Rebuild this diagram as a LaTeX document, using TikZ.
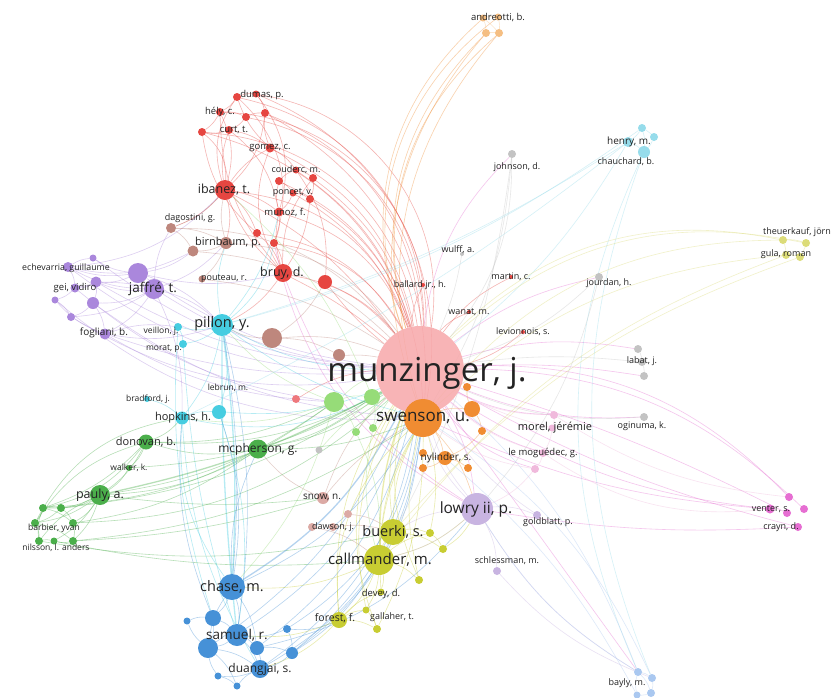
\documentclass[tikz,border=0pt]{standalone}
\usepackage{fontspec}
\setmainfont{Open Sans}
\usetikzlibrary{backgrounds}
\definecolor{cRed}{RGB}{230,70,65}
\definecolor{cPink}{RGB}{247,168,170}
\definecolor{cPinkL}{RGB}{238,120,125}
\definecolor{cBrown}{RGB}{190,135,125}
\definecolor{cSnow}{RGB}{220,170,165}
\definecolor{cPurple}{RGB}{170,135,220}
\definecolor{cCyan}{RGB}{70,205,225}
\definecolor{cGreen}{RGB}{75,175,75}
\definecolor{cLGreen}{RGB}{150,220,120}
\definecolor{cOrange}{RGB}{240,140,50}
\definecolor{cYellow}{RGB}{200,205,50}
\definecolor{cBlue}{RGB}{70,145,215}
\definecolor{cLav}{RGB}{200,180,225}
\definecolor{cGray}{RGB}{195,195,195}
\definecolor{cMag}{RGB}{230,110,210}
\definecolor{cLPink}{RGB}{240,185,220}
\definecolor{cPeach}{RGB}{245,190,130}
\definecolor{cLCyan}{RGB}{150,220,235}
\definecolor{cKhaki}{RGB}{220,220,120}
\definecolor{cLBlue}{RGB}{170,200,240}
\definecolor{cText}{RGB}{35,35,35}
\newcommand\Nd[4]{\node[nd=#4,minimum size=#3pt] (#1) at (#2) {};}
\newcommand\Lb[4]{\node[lbl,font=\fontsize{#4}{#4}\selectfont] (#1) at (#2) {#3};}
\newcommand\EL[3]{\foreach \a/\b/\c in {#3} {\pgfmathsetmacro\cc{#2*\c}\draw[lk=#1] (\a) to[bend left=\cc] (\b);}}
\newcommand\ELT[3]{\foreach \a/\b/\c in {#3} {\pgfmathsetmacro\cc{#2*\c}\draw[lk=#1,line width=1.3pt] (\a) to[bend left=\cc] (\b);}}
\begin{document}
\begin{tikzpicture}[x=1pt,y=-1pt,
  nd/.style={circle,fill=#1,draw=none,inner sep=0pt},
  lbl/.style={inner sep=0pt,text=cText},
  lk/.style={draw=#1,line width=0.6pt,draw opacity=0.4}]
\useasboundingbox (0,0) rectangle (835,697);
% ---------------- nodes ----------------
\node[nd=cPink,fill opacity=0.85,minimum size=88pt] (munz) at (420,370) {};
\Nd{swenson}{423,418}{38}{cOrange}
% red
\Nd{r1}{237,97}{8}{cRed}\Nd{r2}{256,94}{7}{cRed}\Nd{r3}{220,112}{8}{cRed}
\Nd{r4}{246,117}{8}{cRed}\Nd{r5}{265,113}{8}{cRed}\Nd{r6}{202,132}{8}{cRed}
\Nd{r7}{229,130}{8}{cRed}\Nd{r8}{270,148}{9}{cRed}\Nd{r9}{296,170}{7}{cRed}
\Nd{r10}{313,178}{8}{cRed}\Nd{r11}{279,181}{8}{cRed}\Nd{r12}{293,193}{7}{cRed}
\Nd{r13}{310,199}{8}{cRed}\Nd{r14}{279,212}{9}{cRed}\Nd{ibanez}{225,190}{20}{cRed}
\Nd{r15}{257,233}{8}{cRed}\Nd{r16}{274,243}{8}{cRed}\Nd{bruy}{283,273}{18}{cRed}
\Nd{r17}{325,282}{14}{cRed}\Nd{r18}{296,399}{8}{cPinkL}
\Nd{wanat}{469,312}{4}{cRed}\Nd{martin}{511,277}{4}{cRed}
\Nd{levion}{523,332}{4}{cRed}\Nd{ballard}{423,285}{4}{cRed}
% brown
\Nd{b1}{171,228}{10}{cBrown}\Nd{b3}{226,243}{12}{cBrown}\Nd{b4}{193,251}{11}{cBrown}
\Nd{b5}{202,279}{7}{cBrown}\Nd{b6}{272,338}{20}{cBrown}\Nd{b7}{339,355}{12}{cBrown}
\Nd{snow}{323,498}{12}{cSnow}\Nd{b8}{348,514}{8}{cSnow}
\Nd{daw1}{312,527}{8}{cSnow}\Nd{daw2}{333,527}{8}{cSnow}
% purple
\Nd{p1}{68,267}{10}{cPurple}\Nd{p2}{93,258}{7}{cPurple}\Nd{p3}{138,273}{20}{cPurple}
\Nd{jaffre}{154,289}{20}{cPurple}\Nd{p4}{96,282}{11}{cPurple}\Nd{p5}{75,288}{9}{cPurple}
\Nd{p6}{55,300}{7}{cPurple}\Nd{p7}{93,303}{12}{cPurple}\Nd{p8}{71,317}{8}{cPurple}
\Nd{fogliani}{105,334}{11}{cPurple}
% cyan
\Nd{pillon}{222,325}{22}{cCyan}\Nd{c1}{178,327}{8}{cCyan}\Nd{c2}{183,344}{8}{cCyan}
\Nd{hopkins}{182,418}{13}{cCyan}\Nd{c3}{219,412}{14}{cCyan}\Nd{c4}{147,399}{6}{cCyan}
% green
\Nd{donovan}{146,442}{15}{cGreen}\Nd{mcpherson}{258,449}{19}{cGreen}
\Nd{walker}{129,468}{6}{cGreen}\Nd{pauly}{100,495}{20}{cGreen}
\Nd{g1}{43,508}{8}{cGreen}\Nd{g2}{61,508}{8}{cGreen}\Nd{g3}{73,523}{8}{cGreen}
\Nd{g4}{35,523}{8}{cGreen}\Nd{g5}{73,541}{8}{cGreen}\Nd{g6}{39,541}{8}{cGreen}
\Nd{g7}{54,541}{7}{cGreen}
% light green / gray
\Nd{lg1}{334,402}{20}{cLGreen}\Nd{lg2}{372,397}{16}{cLGreen}
\Nd{lg3}{356,432}{8}{cLGreen}\Nd{lg4}{373,428}{8}{cLGreen}\Nd{gr1}{319,450}{7}{cGray}
% orange
\Nd{o1}{472,409}{16}{cOrange}\Nd{o2}{467,387}{8}{cOrange}\Nd{o3}{482,431}{8}{cOrange}
\Nd{nylinder}{445,458}{14}{cOrange}\Nd{o4}{423,453}{8}{cOrange}
\Nd{o5}{423,468}{8}{cOrange}\Nd{o6}{468,468}{8}{cOrange}
% yellow
\Nd{buerki}{393,532}{26}{cYellow}\Nd{y1}{430,533}{8}{cYellow}\Nd{y2}{443,549}{8}{cYellow}
\Nd{callmander}{379,560}{30}{cYellow}\Nd{y3}{419,580}{8}{cYellow}
\Nd{devey}{381,592}{7}{cYellow}\Nd{forest}{339,620}{16}{cYellow}
\Nd{y4}{366,610}{7}{cYellow}\Nd{y5}{377,629}{8}{cYellow}
% blue
\Nd{chase}{232,587}{26}{cBlue}\Nd{bl1}{213,618}{16}{cBlue}\Nd{bl2}{187,621}{7}{cBlue}
\Nd{samuel}{237,635}{22}{cBlue}\Nd{bl3}{208,648}{20}{cBlue}\Nd{bl4}{257,648}{14}{cBlue}
\Nd{bl5}{287,629}{8}{cBlue}\Nd{bl6}{292,653}{12}{cBlue}\Nd{duangjai}{260,669}{18}{cBlue}
\Nd{bl7}{218,676}{7}{cBlue}\Nd{bl8}{237,686}{7}{cBlue}
% lavender
\Nd{lowry}{477,509}{32}{cLav}\Nd{goldblatt}{537,515}{8}{cLav}\Nd{schless}{497,571}{8}{cLav}
% light pink
\Nd{mo1}{554,415}{8}{cLPink}\Nd{mo2}{552,428}{7}{cLPink}
\Nd{le1}{543,453}{8}{cLPink}\Nd{le2}{535,469}{8}{cLPink}
% gray
\Nd{la1}{638,349}{8}{cGray}\Nd{la2}{642,362}{8}{cGray}\Nd{la3}{644,376}{8}{cGray}
\Nd{oginuma}{644,417}{8}{cGray}\Nd{johnson}{512,154}{8}{cGray}
\Nd{jourdan}{599,277}{8}{cGray}\Nd{wulff}{462,254}{4}{cGray}
% magenta
\Nd{v1}{789,497}{8}{cMag}\Nd{v2}{804,509}{8}{cMag}\Nd{v3}{787,513}{8}{cMag}
\Nd{v4}{770,509}{9}{cMag}\Nd{crayn}{798,527}{8}{cMag}
% peach
\Nd{an1}{483,18}{7}{cPeach}\Nd{an2}{498,17}{7}{cPeach}
\Nd{an3}{486,33}{8}{cPeach}\Nd{an4}{499,33}{8}{cPeach}
% light cyan
\Nd{he1}{642,128}{8}{cLCyan}\Nd{he2}{654,137}{8}{cLCyan}
\Nd{he3}{628,142}{10}{cLCyan}\Nd{he4}{644,152}{12}{cLCyan}
% khaki
\Nd{th1}{783,240}{8}{cKhaki}\Nd{th2}{806,243}{8}{cKhaki}
\Nd{gu1}{786,255}{8}{cKhaki}\Nd{gu2}{800,257}{8}{cKhaki}
% light blue
\Nd{ba1}{638,672}{8}{cLBlue}\Nd{ba2}{652,678}{8}{cLBlue}
\Nd{ba3}{651,693}{8}{cLBlue}\Nd{ba4}{637,695}{7}{cLBlue}
% ---------------- edges ----------------
\begin{scope}[on background layer]
\fill[white] (0,0) rectangle (835,697);
\EL{cRed}{1.3}{r1/r2/10,r1/r3/10,r2/r5/10,r3/r4/10,r4/r5/10,r3/r6/10,r4/r7/10,r6/r7/-10,
 r7/r8/10,r5/r8/-10,r8/r9/10,r9/r10/10,r9/r11/-10,r11/r12/10,r12/r13/10,r10/r13/10,r12/r14/10,
 r11/r14/-10,ibanez/r7/10,ibanez/r3/-15,ibanez/r8/10,ibanez/r14/10,ibanez/r15/10,ibanez/bruy/-10,
 r14/r16/10,r16/bruy/10,r15/bruy/10,r14/bruy/-10,r13/bruy/10,r1/ibanez/-20,r6/ibanez/20,r2/r14/20,
 r10/bruy/-15,r9/r17/15,r1/r16/25,r6/r15/-15,r5/ibanez/15,ibanez/b3/10,ibanez/b1/10,r8/bruy/-20,
 r1/munz/30,r2/munz/35,r5/munz/25,r8/munz/20,r10/munz/15,r13/munz/15,r14/munz/20,ibanez/munz/25,
 bruy/munz/15,r17/munz/10,r16/munz/20,r15/munz/20,r12/munz/15,r4/munz/30,r9/munz/15,r11/munz/18,
 r3/munz/35,r6/munz/30,ibanez/munz/10,bruy/munz/5,r17/munz/-5,bruy/pillon/10,r18/munz/10,
 munz/wanat/10,munz/martin/10,munz/ballard/10,munz/levion/-10,r2/swenson/30,r5/swenson/25,
 r6/swenson/28,r3/bruy/-15,r7/r14/15,r1/r8/-10}
\EL{cMag}{1.2}{munz/la1/10,munz/la3/5,munz/oginuma/-10,munz/jourdan/10,munz/johnson/15,
 munz/mo1/-10,munz/le1/-10,munz/le2/-15,munz/lowry/10,munz/v1/20,munz/v2/18,swenson/v4/-8,
 lowry/crayn/-5,munz/crayn/-6,munz/v3/4,o1/v4/-10,munz/ba1/0,r16/lowry/-20,bruy/lowry/-15}
\EL{cPurple}{1.3}{jaffre/p1/10,jaffre/p3/10,jaffre/p4/10,jaffre/p5/-10,jaffre/p7/10,jaffre/p8/10,
 jaffre/fogliani/10,p3/p1/10,p3/p2/10,p3/p4/10,p1/p5/10,p4/p7/10,p5/p6/10,p6/p8/10,p7/p8/10,p1/p2/10,
 p4/p5/10,p7/fogliani/10,p6/fogliani/-10,p1/b4/-15,p3/b4/-10,jaffre/b3/-10,jaffre/b1/10,
 jaffre/munz/-10,p3/munz/-10,fogliani/munz/-8,p4/munz/-10,p2/munz/-12,jaffre/pillon/10,
 p3/pillon/10,fogliani/c1/10,jaffre/hopkins/10,p3/bruy/-10,p1/ibanez/-15,fogliani/lg1/-10,
 p8/munz/-15,p1/munz/-14,p7/swenson/-12,fogliani/pillon/-10,p6/swenson/-16,p5/lg1/-12}
\EL{cCyan}{1.3}{pillon/c1/10,pillon/c2/10,c1/c2/10,pillon/hopkins/10,pillon/c3/10,
 pillon/munz/-10,hopkins/chase/-15,c3/samuel/10,pillon/b3/10,pillon/r14/-10,
 c4/hopkins/10,hopkins/c3/10,hopkins/munz/-15,c3/munz/-10,c2/samuel/-5,pillon/r16/-15,
 hopkins/duangjai/-10,pillon/swenson/-8,c1/bl1/-8}
\ELT{cCyan}{1}{pillon/chase/5,pillon/samuel/-3}
\EL{cBrown}{1.3}{b1/b3/10,b1/b4/10,b3/b4/10,b3/b5/10,b1/ibanez/-10,b3/ibanez/10,b6/munz/10,
 b7/munz/5,b6/pillon/10,b3/munz/20,b4/munz/15,b1/munz/20,b5/munz/10,b6/b7/10,snow/munz/10,
 b8/buerki/10,daw1/callmander/10,snow/mcpherson/10,b6/r17/-10,daw2/buerki/8,snow/swenson/8}
\EL{cGreen}{1.3}{pauly/g1/10,pauly/g2/10,pauly/g3/10,pauly/g4/10,pauly/g5/10,pauly/g6/-10,
 pauly/g7/10,g1/g2/10,g1/g4/10,g2/g3/10,g3/g5/10,g4/g6/10,g5/g7/10,g6/g7/10,g1/g3/10,g2/g4/10,
 g4/g5/10,g1/g6/-10,donovan/pauly/10,walker/pauly/10,donovan/walker/10,donovan/g1/10,
 donovan/mcpherson/-10,pauly/mcpherson/-10,donovan/munz/-12,mcpherson/munz/-10,
 g2/munz/-10,g3/munz/-15,g5/snow/-5,g1/lg1/-12,pauly/lg1/-10,walker/munz/-10,hopkins/donovan/10,
 g4/donovan/15,g3/mcpherson/-10,pauly/snow/-5,g6/buerki/-8,g5/swenson/-10,mcpherson/lg2/-10,
 donovan/lg1/-10,g7/callmander/-6,g4/hopkins/20,mcpherson/swenson/-8,g1/donovan/-15}
\ELT{cGreen}{1}{pauly/munz/-8}
\EL{cLGreen}{1.3}{lg1/munz/10,lg2/munz/0,lg3/munz/5,lg4/munz/5,lg1/lg2/10,lg1/lg3/10,
 lg2/lg4/10,lg1/pillon/10,lg2/ibanez/-10,lg1/chase/10,lg3/callmander/10,lg4/callmander/-10,
 gr1/munz/5,lg1/hopkins/10}
\EL{cBlue}{1.3}{chase/samuel/10,chase/bl1/10,bl1/samuel/10,samuel/bl3/10,bl3/duangjai/10,
 samuel/bl4/10,bl4/duangjai/10,bl5/bl6/10,bl6/duangjai/10,bl7/bl3/10,bl8/duangjai/10,bl2/bl1/10,
 bl1/bl3/10,bl3/bl8/10,bl7/bl8/10,samuel/duangjai/10,chase/bl4/10,bl4/bl6/10,bl5/samuel/10,
 chase/bl3/-10,bl2/bl3/-10,bl7/duangjai/-10,samuel/munz/-15,duangjai/munz/-18,
 bl6/munz/-20,bl5/munz/-20,bl4/munz/-15,bl3/munz/-12,chase/pillon/-5,samuel/pillon/-8,
 chase/c3/-10,bl6/callmander/-10,bl5/forest/-10,duangjai/swenson/-20,chase/mcpherson/10,
 bl1/hopkins/10,bl6/swenson/-15,chase/swenson/-12,bl4/lowry/-14}
\ELT{cBlue}{1}{chase/munz/-15}
\EL{cYellow}{1.3}{callmander/buerki/10,callmander/forest/10,callmander/y3/10,buerki/y1/10,
 y1/y2/10,forest/y4/10,y4/y5/10,forest/y5/10,callmander/y4/10,buerki/y2/10,callmander/y1/10,
 forest/devey/10,callmander/devey/10,buerki/munz/10,buerki/swenson/10,
 callmander/swenson/10,forest/munz/15,y2/lowry/-10,callmander/lowry/-10,forest/samuel/10,
 y3/munz/15,y5/munz/20,y3/swenson/10,forest/swenson/20,forest/duangjai/10,callmander/chase/10,
 y1/swenson/-10,y4/munz/15,devey/swenson/12,y5/swenson/-10}
\ELT{cYellow}{1}{callmander/munz/10}
\EL{cOrange}{1.2}{swenson/o1/10,o1/o2/10,o1/o3/10,swenson/nylinder/10,nylinder/o4/10,
 nylinder/o5/10,nylinder/o6/10,swenson/lowry/10,o3/nylinder/10}
\EL{cOrange}{1}{munz/an1/34,munz/an2/36,munz/an3/30,munz/an4/32,swenson/an3/30,swenson/an4/28}
\EL{cPeach}{1}{an1/an2/10,an1/an3/10,an2/an4/10,an3/an4/10,an1/an4/5}
\EL{cLCyan}{1}{he1/he2/10,he1/he3/10,he2/he4/10,he3/he4/10,he1/he4/10,he3/pillon/8,
 he3/hopkins/6,he4/ba1/-24,he4/ba2/-21,he3/munz/10,he1/pillon/10}
\EL{cKhaki}{1}{th1/th2/10,th1/gu1/10,gu1/gu2/10,th2/gu2/10,munz/th1/28,munz/th2/27,
 swenson/th1/25,callmander/gu1/16,buerki/gu2/14,swenson/gu1/18}
\EL{cGray}{1.3}{johnson/munz/15,johnson/swenson/10,jourdan/munz/10,la2/munz/-5,
 oginuma/munz/10,wulff/munz/5,la1/la2/10,la2/la3/10,johnson/callmander/8,jourdan/lowry/10}
\EL{cLav}{1.3}{lowry/goldblatt/10,lowry/schless/10,lowry/munz/10,lowry/ba1/-10,
 schless/ba2/-10,lowry/swenson/10,goldblatt/munz/10,lowry/callmander/10,lowry/buerki/-10}
\EL{cLBlue}{1.3}{ba1/ba2/10,ba2/ba3/10,ba3/ba4/10,ba4/ba1/10,ba1/ba3/10,ba1/munz/-10,
 ba2/swenson/-12,ba1/lowry/10,ba4/nylinder/-8}
\EL{cLPink}{1.3}{mo1/munz/10,mo2/munz/5,le1/munz/10,le2/swenson/10,le1/v4/-15,mo1/mo2/10,
 le1/le2/10,mo2/le1/10,le2/lowry/10,mo1/v1/-10}
\end{scope}
% ---------------- labels ----------------
\Lb{t01}{498,17}{andreotti, b.}{9.5}
\Lb{t02}{262,95}{dumas, p.}{9.5}
\Lb{t03}{220,112}{hély, c.}{9.5}
\Lb{t04}{234,130}{curt, t.}{9.5}
\Lb{t05}{270,148}{gomez, c.}{9.5}
\Lb{t06}{296,170}{couderc, m.}{9}
\Lb{t07}{293,193}{poncet, v.}{9}
\Lb{t08}{285,212}{munoz, f.}{9.5}
\Lb{t09}{224,190}{ibanez, t.}{12.5}
\Lb{t10}{190,218}{dagostini, g.}{9}
\Lb{t11}{228,243}{birnbaum, p.}{11}
\Lb{t12}{224,279}{pouteau, r.}{9}
\Lb{t13}{282,273}{bruy, d.}{12.5}
\Lb{t14}{66,268}{echevarria, guillaume}{8.8}
\Lb{t15}{153,289}{jaffré, t.}{13.5}
\Lb{t16}{75,288}{gei, vidiro}{9.5}
\Lb{t17}{104,333}{fogliani, b.}{10}
\Lb{t18}{222,324}{pillon, y.}{14.5}
\Lb{t19}{161,331}{veillon, j.}{8.5}
\Lb{t20}{164,349}{morat, p.}{8.5}
\Lb{t21}{629,142}{henry, m.}{10}
\Lb{t22}{626,162}{chauchard, b.}{9}
\Lb{t23}{517,167}{johnson, d.}{9}
\Lb{t24}{458,250}{wulff, a.}{9}
\Lb{t25}{420,285}{ballard jr., h.}{9}
\Lb{t26}{511,277}{martin, c.}{9}
\Lb{t27}{609,283}{jourdan, h.}{9}
\Lb{t28}{797,232}{theuerkauf, jörn}{9}
\Lb{t29}{786,254}{gula, roman}{9}
\Lb{t30}{469,312}{wanat, m.}{9}
\Lb{t31}{523,332}{levionnois, s.}{9}
\Lb{t32}{642,361}{labat, j.}{9}
\Lb{t33}{427,373}{munzinger, j.}{33}
\Lb{t34}{423,418}{swenson, u.}{17}
\Lb{t35}{228,388}{lebrun, m.}{8.5}
\Lb{t36}{148,399}{bradford, j.}{8.5}
\Lb{t37}{183,418}{hopkins, h.}{11}
\Lb{t38}{146,442}{donovan, b.}{11}
\Lb{t39}{258,449}{mcpherson, g.}{12}
\Lb{t40}{129,468}{walker, k.}{8.5}
\Lb{t41}{100,495}{pauly, a.}{12.5}
\Lb{t42}{54,528}{barbier, yvan}{8.5}
\Lb{t43}{56,548}{nilsson, l. anders}{8.5}
\Lb{t44}{555,428}{morel, jérémie}{11}
\Lb{t45}{642,426}{oginuma, k.}{9}
\Lb{t46}{543,453}{le moguédec, g.}{9.5}
\Lb{t47}{446,458}{nylinder, s.}{10}
\Lb{t48}{322,497}{snow, n.}{10}
\Lb{t49}{333,527}{dawson, j.}{9}
\Lb{t50}{393,532}{buerki, s.}{14.5}
\Lb{t51}{380,560}{callmander, m.}{15}
\Lb{t52}{476,509}{lowry ii, p.}{15.5}
\Lb{t53}{548,522}{goldblatt, p.}{9}
\Lb{t54}{507,561}{schlessman, m.}{9}
\Lb{t55}{381,594}{devey, d.}{9.5}
\Lb{t56}{335,618}{forest, f.}{10.5}
\Lb{t57}{392,617}{gallaher, t.}{9}
\Lb{t58}{232,587}{chase, m.}{14.5}
\Lb{t59}{237,635}{samuel, r.}{13.5}
\Lb{t60}{260,669}{duangjai, s.}{12}
\Lb{t61}{771,509}{venter, s.}{9}
\Lb{t62}{781,527}{crayn, d.}{9}
\Lb{t63}{627,683}{bayly, m.}{9}
\end{tikzpicture}
\end{document}
